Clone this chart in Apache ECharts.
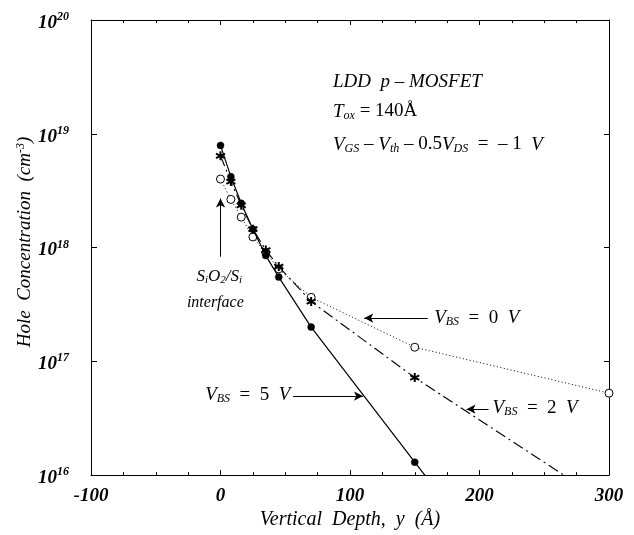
<!DOCTYPE html>
<html>
<head>
<meta charset="utf-8">
<script src="https://cdn.jsdelivr.net/npm/echarts@6/dist/echarts.min.js"></script>
<style>
  html, body { margin: 0; padding: 0; background: #fff; }
  #chart { width: 634px; height: 535px; }
</style>
</head>
<body>
<div id="chart"></div>
<script>
// Hole concentration (cm^-3) versus vertical depth y (Å) below the Si/SiO2 interface
// V_BS = 5 V (filled circles, solid line); last point lies below the axis and only sets the line's slope
const depthVbs5 = [0, 8, 16, 25, 35, 45, 70, 150, 200];
const holeVbs5  = [7.9e18, 4.2e18, 2.45e18, 1.45e18, 8.5e17, 5.5e17, 2.0e17, 1.3e16, 2.4e15];

// V_BS = 2 V (asterisks, dash-dot line); last point lies below the axis
const depthVbs2 = [0, 8, 16, 25, 35, 45, 70, 150, 300];
const holeVbs2  = [6.4e18, 3.8e18, 2.35e18, 1.45e18, 9.5e17, 6.8e17, 3.35e17, 7.2e16, 5.5e15];

// V_BS = 0 V (open circles, dotted line)
const depthVbs0 = [0, 8, 16, 25, 35, 45, 70, 150, 300];
const holeVbs0  = [4.0e18, 2.65e18, 1.85e18, 1.24e18, 9.0e17, 6.5e17, 3.65e17, 1.33e17, 5.25e16];

const xTicks = [-100, 0, 100, 200, 300];
const yDecades = [16, 17, 18, 19, 20];

const SERIF = '"Liberation Serif", "DejaVu Serif", serif';

function pairs(xs, ys) { return xs.map((x, i) => [x, ys[i]]); }

const chart = echarts.init(document.getElementById('chart'), null, { renderer: 'canvas' });

const asterisk = 'path://M0,-5L0,5M-4.33,-2.5L4.33,2.5M-4.33,2.5L4.33,-2.5';
const arrowLine = { color: '#000', width: 1, type: 'solid' };
const axisLineStyle = { show: true, onZero: false, lineStyle: { color: '#000', width: 1 } };

const option = {
  animation: false,
  backgroundColor: '#fff',
  grid: { left: 91, top: 20, right: 25, bottom: 54, show: false },
  xAxis: [{
    type: 'value', min: xTicks[0], max: xTicks[xTicks.length - 1], interval: 100,
    position: 'bottom',
    axisLine: axisLineStyle,
    axisTick: { show: true, inside: true, length: 5, lineStyle: { color: '#000' } },
    minorTick: { show: true, splitNumber: 4, length: 3, lineStyle: { color: '#000' } },
    splitLine: { show: false },
    axisLabel: {
      margin: 11, color: '#000', fontFamily: SERIF, fontStyle: 'italic', fontWeight: 'bold', fontSize: 19
    },
    name: 'Vertical  Depth,  y  (Å)', nameLocation: 'middle', nameGap: 33,
    nameTextStyle: { color: '#000', fontFamily: SERIF, fontStyle: 'italic', fontSize: 20 }
  }, {
    type: 'value', min: xTicks[0], max: xTicks[xTicks.length - 1], interval: 100,
    position: 'top',
    axisLine: axisLineStyle,
    axisTick: { show: true, inside: true, length: 5, lineStyle: { color: '#000' } },
    minorTick: { show: true, splitNumber: 4, length: 3, lineStyle: { color: '#000' } },
    splitLine: { show: false },
    axisLabel: { show: false }
  }],
  yAxis: [{
    type: 'log', logBase: 10, position: 'left',
    min: Math.pow(10, yDecades[0]), max: Math.pow(10, yDecades[yDecades.length - 1]),
    axisLine: axisLineStyle,
    axisTick: { show: true, inside: true, length: 6, lineStyle: { color: '#000' } },
    splitLine: { show: false },
    axisLabel: {
      margin: 22,
      formatter: v => '{b|10}{s|' + Math.round(Math.log10(v)) + '}',
      rich: {
        b: { fontFamily: SERIF, fontStyle: 'italic', fontWeight: 'bold', fontSize: 19, color: '#000', padding: [6, 0, 0, 0] },
        s: { fontFamily: SERIF, fontStyle: 'italic', fontWeight: 'bold', fontSize: 12, color: '#000', padding: [0, 0, 6, 0] }
      }
    }
  }, {
    type: 'log', logBase: 10, position: 'right',
    min: Math.pow(10, yDecades[0]), max: Math.pow(10, yDecades[yDecades.length - 1]),
    axisLine: axisLineStyle,
    axisTick: { show: true, inside: true, length: 5, lineStyle: { color: '#000' } },
    splitLine: { show: false },
    axisLabel: { show: false }
  }],
  series: [{
    name: 'VBS = 0 V', type: 'line', data: pairs(depthVbs0, holeVbs0),
    symbol: 'circle', symbolSize: 8, showAllSymbol: true, clip: true, z: 2,
    lineStyle: { color: '#000', width: 1, type: [1, 2.5] },
    itemStyle: { color: '#fff', borderColor: '#000', borderWidth: 1 },
    markLine: {
      silent: true, symbol: ['none', 'arrow'], symbolSize: [7, 9],
      label: { show: false }, lineStyle: arrowLine,
      data: [[{ coord: [160, 2.4e17] }, { coord: [111, 2.4e17] }]]
    }
  }, {
    name: 'VBS = 2 V', type: 'line', data: pairs(depthVbs2, holeVbs2),
    symbol: asterisk, symbolSize: 9, showAllSymbol: true, clip: true, z: 3,
    lineStyle: { color: '#000', width: 1.1, type: [11, 4, 2, 4] },
    itemStyle: { color: '#000', borderColor: '#000', borderWidth: 2 },
    markLine: {
      silent: true, symbol: ['none', 'arrow'], symbolSize: [7, 9],
      label: { show: false }, lineStyle: arrowLine,
      data: [[{ coord: [207, 3.8e16] }, { coord: [190, 3.8e16] }]]
    }
  }, {
    name: 'VBS = 5 V', type: 'line', data: pairs(depthVbs5, holeVbs5),
    symbol: 'circle', symbolSize: 7, showAllSymbol: true, clip: true, z: 4,
    lineStyle: { color: '#000', width: 1.2, type: 'solid' },
    itemStyle: { color: '#000', borderColor: '#000', borderWidth: 0.5 },
    markLine: {
      silent: true, symbol: ['none', 'arrow'], symbolSize: [7, 9],
      label: { show: false }, lineStyle: arrowLine,
      data: [
        [{ coord: [56, 4.95e16] }, { coord: [110, 4.95e16] }],
        [{ coord: [0, 8.3e17] }, { coord: [0, 2.7e18] }]
      ]
    }
  }]
};

chart.setOption(option);

// Annotation texts anchored in data coordinates
function px(x, y) { return chart.convertToPixel({ gridIndex: 0 }, [x, y]); }

const vRich = {
  v: { fontFamily: SERIF, fontStyle: 'italic', fontSize: 19, fill: '#000' },
  s: { fontFamily: SERIF, fontStyle: 'italic', fontSize: 12, fill: '#000', padding: [8, 0, 0, 0] },
  n: { fontFamily: SERIF, fontSize: 19, fill: '#000' }
};
function vbsLabel(text, x, y, align) {
  const p = px(x, y);
  return {
    type: 'text', x: p[0], y: p[1], z: 100,
    style: { text: text, rich: vRich, align: align, verticalAlign: 'middle', fill: '#000' }
  };
}

const p0 = px(-1, 5.6e17);
const p1 = px(-4, 3.3e17);

chart.setOption({
  graphic: [
    vbsLabel('{v|V}{s|BS}{n|  =  0  }{v|V}', 165, 2.4e17, 'left'),
    vbsLabel('{v|V}{s|BS}{n|  =  2  }{v|V}', 210, 3.9e16, 'left'),
    vbsLabel('{v|V}{s|BS}{n|  =  5  }{v|V}', 54, 5.05e16, 'right'),
    {
      type: 'text', x: p0[0], y: p0[1], z: 100,
      style: {
        text: '{a|S}{sb|i}{o|O}{sb|2}{a|/S}{sb|i}',
        rich: {
          a: { fontFamily: SERIF, fontStyle: 'italic', fontSize: 17, fill: '#000' },
          o: { fontFamily: SERIF, fontStyle: 'italic', fontSize: 17, fill: '#000' },
          sb: { fontFamily: SERIF, fontStyle: 'italic', fontSize: 11, fill: '#000', padding: [7, 0, 0, 0] }
        },
        align: 'center', verticalAlign: 'middle'
      }
    },
    {
      type: 'text', x: p1[0], y: p1[1], z: 100,
      style: { text: 'interface', font: 'italic 16px ' + SERIF, fill: '#000', align: 'center', verticalAlign: 'middle' }
    },
    {
      type: 'text', left: 333, top: 72, z: 100,
      style: { text: 'LDD  p – MOSFET', font: 'italic 19px ' + SERIF, fill: '#000' }
    },
    {
      type: 'text', left: 333, top: 102, z: 100,
      style: {
        text: '{v|T}{s|ox}{n| = 140Å}',
        rich: vRich
      }
    },
    {
      type: 'text', left: 333, top: 135, z: 100,
      style: {
        text: '{v|V}{s|GS}{n| – }{v|V}{s|th}{n| – 0.5}{v|V}{s|DS}{n|  =  – 1  }{v|V}',
        rich: vRich
      }
    },
    {
      type: 'text', x: 25, y: 242, rotation: Math.PI / 2, z: 100,
      style: {
        text: '{t|Hole  Concentration  (cm}{u|-3}{t|)}',
        rich: {
          t: { fontFamily: SERIF, fontStyle: 'italic', fontSize: 19, fill: '#000' },
          u: { fontFamily: SERIF, fontStyle: 'italic', fontSize: 12, fill: '#000', padding: [0, 0, 9, 0] }
        },
        align: 'center', verticalAlign: 'middle'
      }
    }
  ]
});
</script>
</body>
</html>
